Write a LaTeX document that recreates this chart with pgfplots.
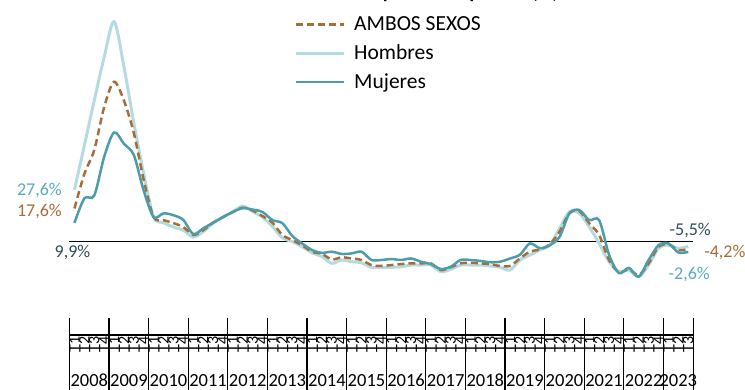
\documentclass[border=0pt]{standalone}
\usepackage{fontspec}
\setmainfont{Carlito}
\usepackage{pgfplots}
\pgfplotsset{compat=1.18}
\definecolor{hom}{HTML}{B5DBE0}
\definecolor{muj}{HTML}{4C9DA9}
\definecolor{amb}{HTML}{A66E37}
\definecolor{lblhom}{HTML}{5AAAB9}
\definecolor{lblmuj}{HTML}{2F4E58}

\pgfplotstableread{
i hom amb muj
0 27.6 17.6 9.9
1 51 36 23
2 75 48.7 24.5
3 98 71.5 45
4 117 85 58
5 93 75 52
6 63 57.7 46
7 36 32.7 27
8 13 13 13
9 10 11.4 15
10 7.7 9.8 14
11 6 7.7 11.5
12 2.4 3.5 4
13 5.2 6 7
14 9.8 10 10
15 13 13 13
16 15.9 15.7 15.7
17 18.9 18 17.8
18 15.9 16.5 17
19 13 13.5 15.7
20 8 10 11.4
21 2 3.5 9.8
22 0 0.8 3
23 -2.8 -2 -1
24 -6 -5.4 -4.5
25 -8 -6.6 -6
26 -11.6 -9.5 -5.4
27 -9.8 -8.4 -6.6
28 -10.7 -9 -6.3
29 -11.3 -9.8 -5.4
30 -13.7 -12.5 -9.8
31 -13.7 -13 -9.8
32 -13.7 -12.5 -9.3
33 -13.4 -12 -9.8
34 -12.5 -11.6 -9
35 -12.5 -11.6 -10.7
36 -12.5 -11.6 -12
37 -16 -15.2 -14.6
38 -14.8 -13.7 -13.4
39 -12.5 -11.6 -9.8
40 -12.5 -11.3 -9.8
41 -12.5 -11.6 -10.3
42 -13 -12 -11
43 -13.7 -13 -10.7
44 -15.2 -13 -9
45 -9.8 -9 -7
46 -7.2 -5.4 -1
47 -4.5 -4.2 -3.5
48 -1.9 -1.5 -2
49 7 5.2 2.5
50 15.9 15 15
51 15 16.2 16.8
52 7.9 9.7 11.4
53 -1 3.5 11.4
54 -10.7 -9.8 -7
55 -16 -16.4 -16.8
56 -15.2 -14.8 -14
57 -18.7 -17.8 -18.7
58 -12.5 -11.6 -9.8
59 -3.6 -2.8 -1.9
60 -1.9 -1.5 -1
61 -3.6 -4.5 -5.8
62 -2.6 -4.2 -5.5
}\datatable

\begin{document}
\begin{tikzpicture}[x=1pt,y=1pt]
\useasboundingbox (0,0) rectangle (745,390);
\node[anchor=base east, font=\fontsize{20}{22}\selectfont\bfseries] at (562,391.5) {Variación anual de la población parada (\%)};
\begin{axis}[
  at={(69.5pt,55pt)}, anchor=south west,
  scale only axis, width=623.7pt, height=335pt,
  xmin=-0.5, xmax=62.5, ymin=-49.7, ymax=128.5,
  clip=false,
  hide y axis,
  axis x line*=bottom,
  x axis line style={black, line width=1.2pt},
  xtick={0,...,62},
  major tick length=0pt,
  xticklabel={\pgfmathtruncatemacro\q{mod(round(\tick),4)+1}T\q},
  xticklabel style={rotate=90, anchor=east, font=\fontsize{16}{16}\selectfont, inner sep=0pt},
  xticklabel shift={1.5pt},
  legend style={draw=none, fill=none, at={(0.36,0.953)}, anchor=north west,
     font=\fontsize{21.5}{23}\selectfont, row sep=10.5pt, inner sep=0pt,
     nodes={inner sep=1pt},
     /tikz/every odd column/.append style={column sep=8pt}},
  legend cell align=left,
  legend image code/.code={\draw[#1] (0pt,0pt) -- (48pt,0pt);},
]
\addlegendimage{amb, line width=2.5pt, dash pattern=on 7pt off 4pt}
\addlegendentry{AMBOS SEXOS}
\addlegendimage{hom, line width=3pt}
\addlegendentry{Hombres}
\addlegendimage{muj, line width=2.5pt}
\addlegendentry{Mujeres}

\addplot[black, line width=1.3pt, forget plot] coordinates {(-0.5,0) (62.5,0)};
\addplot[hom, line width=3pt, smooth, tension=0.5, forget plot] table[x=i, y=hom] {\datatable};
\addplot[amb, line width=2.5pt, dash pattern=on 7pt off 4pt, smooth, tension=0.5, forget plot] table[x=i, y=amb] {\datatable};
\addplot[muj, line width=2.5pt, smooth, tension=0.5, forget plot] table[x=i, y=muj] {\datatable};

\pgfplotsinvokeforeach{-0.5,3.5,...,59.5,62.5}{
  \draw[black, line width=1.2pt] ([yshift=17pt]axis cs:#1,-49.7) -- ([yshift=-56pt]axis cs:#1,-49.7);
}
\pgfplotsinvokeforeach{0,...,14}{
  \node[anchor=base, font=\fontsize{18.5}{20}\selectfont, inner sep=0pt] at (axis cs:{4*#1+1.5},-49.7) [yshift=-52pt] {\the\numexpr2008+#1\relax};
}
\node[anchor=base, font=\fontsize{18.5}{20}\selectfont, inner sep=0pt] at (axis cs:61,-49.7) [yshift=-52pt] {2023};

\begin{scope}[font=\fontsize{18}{20}\selectfont, inner sep=0pt]
\node[anchor=east, text=lblhom] at (axis cs:-1.26,27.4) {27,6\%};
\node[anchor=east, text=amb] at (axis cs:-1.26,16.2) {17,6\%};
\node[anchor=center, text=lblmuj] at (axis cs:-0.2,-5.6) {9,9\%};
\node[anchor=center, text=lblmuj] at (axis cs:62.2,6.1) {-5,5\%};
\node[anchor=center, text=amb] at (axis cs:65.7,-5.6) {-4,2\%};
\node[anchor=center, text=lblhom] at (axis cs:62.1,-17.3) {-2,6\%};
\end{scope}
\end{axis}
\end{tikzpicture}
\end{document}
